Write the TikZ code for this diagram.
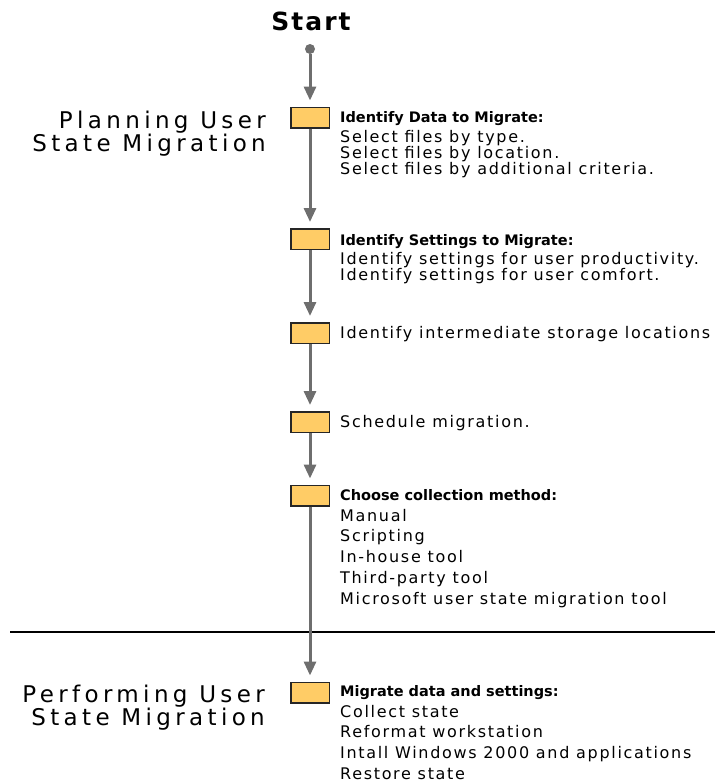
\documentclass[tikz,border=0pt]{standalone}
\usepackage{fontspec}
\setmainfont{DejaVu Sans}
\newfontfamily\bodyfont[LetterSpace=10.5]{DejaVu Sans}
\newfontfamily\headfont{DejaVu Sans}
\newfontfamily\phasefont[LetterSpace=19]{DejaVu Sans}
\newfontfamily\startfont[LetterSpace=8]{DejaVu Sans}
\usetikzlibrary{arrows.meta, positioning}

\definecolor{boxfill}{HTML}{FFCC66}
\definecolor{flowgray}{HTML}{6E6E6E}

\begin{document}
\begin{tikzpicture}[
        x=1pt, y=-1pt,
        stepbox/.style={
            rectangle,
            draw=black!85,
            line width=1.5pt,
            fill=boxfill,
            minimum width=38.5pt,
            minimum height=20.5pt,
            inner sep=0pt
        },
        steptext/.style={
            anchor=north west,
            align=left,
            inner sep=0pt,
            font=\bodyfont\fontsize{16}{16}\selectfont
        },
        listtext/.style={
            steptext,
            font=\bodyfont\fontsize{16}{20.8}\selectfont
        },
        phase/.style={
            anchor=north east,
            align=right,
            inner sep=0pt,
            font=\phasefont\fontsize{23}{23.5}\selectfont
        },
        arrow/.style={-{Triangle[width=12pt,length=14pt]}, line width=3pt, draw=flowgray, shorten >=6pt}
    ]
    \useasboundingbox (0,0) rectangle (715,782);

    \node (start) [anchor=base, font=\startfont\bfseries\fontsize{25}{28}\selectfont] at (311,30) {Start};
    \node (dot) [circle, fill=flowgray, inner sep=0pt, minimum size=10pt] at (310,49) {};

    \node (plan) [phase] at (266,110.5) {Planning User\\State Migration};
    \node (perform) [phase] at (265,684.5) {Performing User\\State Migration};

    % planning steps
    \node (b1) [stepbox] at (310,117.5) {};
    \node (b2) [stepbox] at (310,239) {};
    \node (b3) [stepbox] at (310,333) {};
    \node (b4) [stepbox] at (310,422) {};
    \node (b5) [stepbox] at (310,495.5) {};
    % performing step
    \node (b6) [stepbox] at (310,692.5) {};

    \node (t1) [steptext] at ([xshift=10pt, yshift=6pt]b1.east)
        {{\headfont\bfseries\fontsize{14.5}{16}\selectfont Identify Data to Migrate:}\\[3.5pt]
         Select files by type.\\
         Select files by location.\\
         Select files by additional criteria.};
    \node (t2) [steptext] at ([xshift=10pt, yshift=5pt]b2.east)
        {{\headfont\bfseries\fontsize{14.5}{16}\selectfont Identify Settings to Migrate:}\\[3pt]
         Identify settings for user productivity.\\
         Identify settings for user comfort.};
    \node (t3) [steptext] at ([xshift=10pt, yshift=7pt]b3.east) {Identify intermediate storage locations};
    \node (t4) [steptext] at ([xshift=10pt, yshift=7pt]b4.east) {Schedule migration.};
    \node (t5) [listtext] at ([xshift=10pt, yshift=6.5pt]b5.east)
        {{\headfont\bfseries\fontsize{14.5}{16}\selectfont Choose collection method:}\\
         Manual\\
         Scripting\\
         In-house tool\\
         Third-party tool\\
         Microsoft user state migration tool};
    \node (t6) [listtext] at ([xshift=10pt, yshift=7.5pt]b6.east)
        {{\headfont\bfseries\fontsize{14.5}{16}\selectfont Migrate data and settings:}\\
         Collect state\\
         Reformat workstation\\
         Intall Windows 2000 and applications\\
         Restore state};

    \coordinate (sepL) at (10,632);
    \coordinate (sepR) at (715,632);
    \draw [line width=2pt] (sepL) -- (sepR);

    \draw [arrow] (dot) -- (b1);
    \draw [arrow] (b1) -- (b2);
    \draw [arrow] (b2) -- (b3);
    \draw [arrow] (b3) -- (b4);
    \draw [arrow] (b4) -- (b5);
    \draw [arrow] (b5) -- (b6);

    \end{tikzpicture}
\end{document}
